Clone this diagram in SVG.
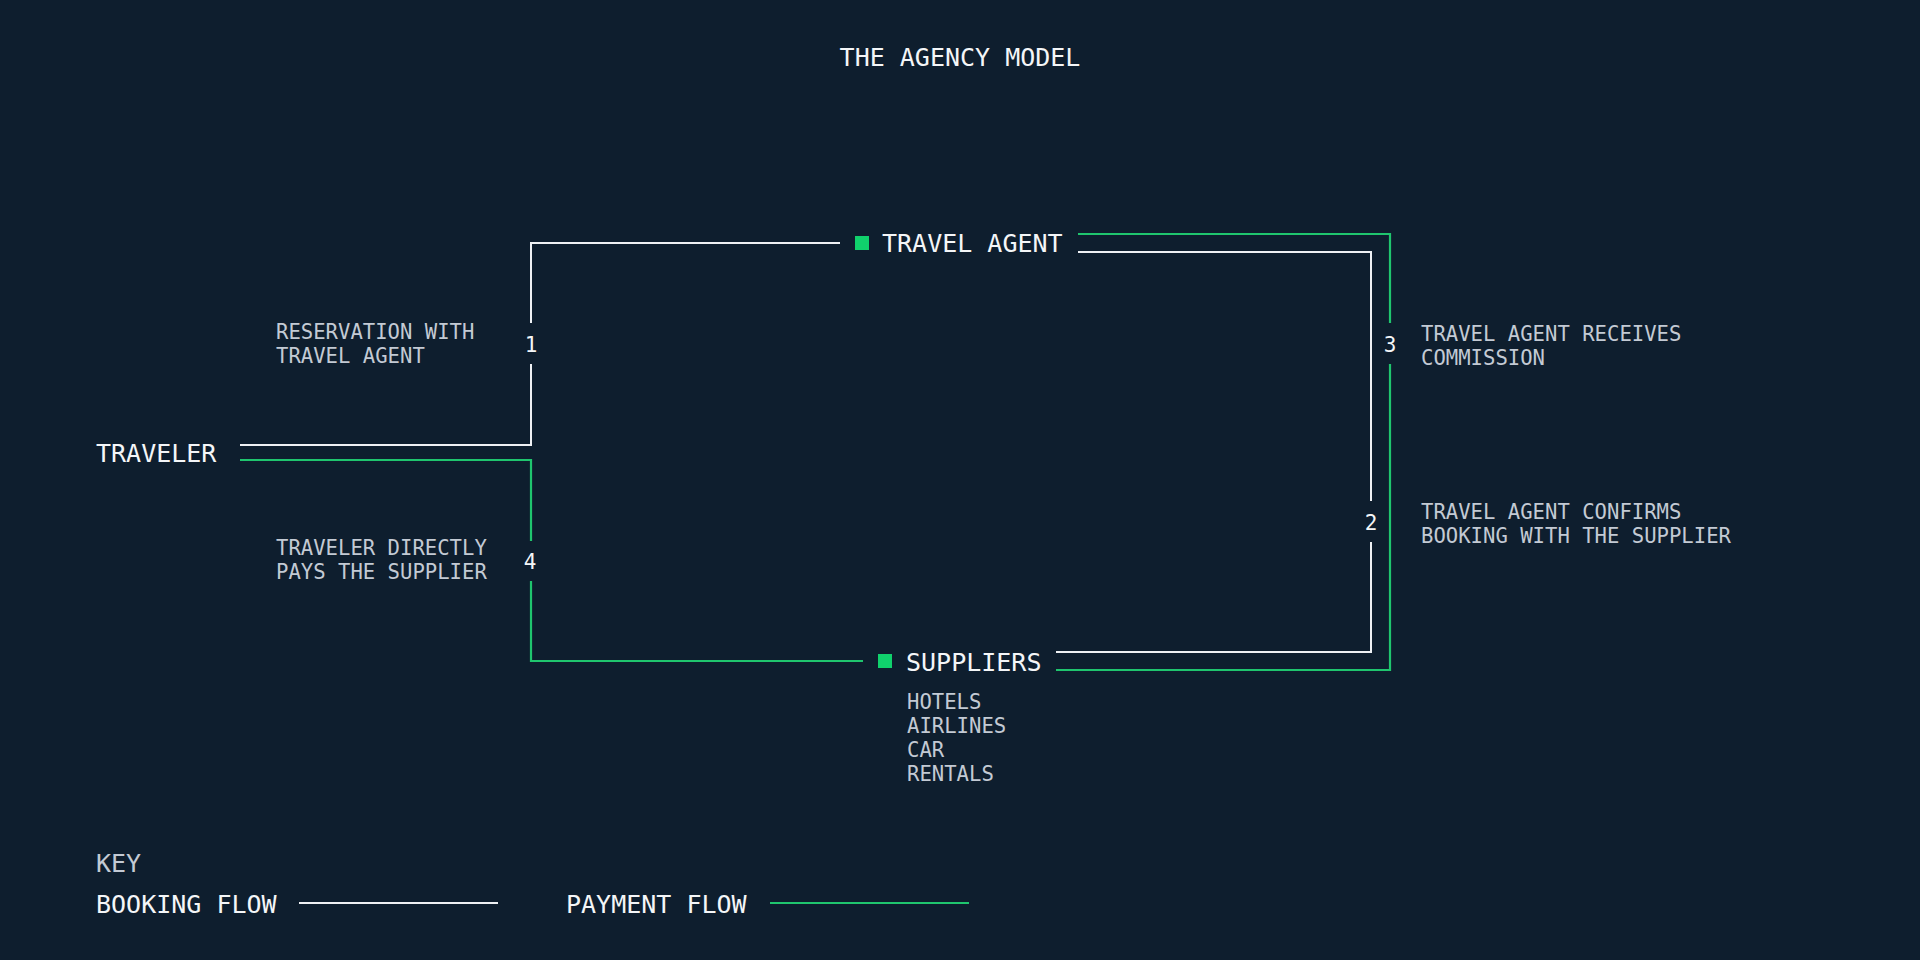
<svg xmlns="http://www.w3.org/2000/svg" width="1920" height="960" viewBox="0 0 1920 960">
<style>
  text { font-family: "DejaVu Sans Mono", "Liberation Mono", monospace; }
  .title { font-size: 25px; fill: #f4f6f8; }
  .node { font-size: 25px; fill: #f4f6f8; }
  .label { font-size: 20.6px; fill: #c3cad4; }
  .num { font-size: 21px; fill: #f4f6f8; text-anchor: middle; }
  .key { font-size: 25px; fill: #c3cad4; }
  .booking { fill: none; stroke: #eef1f4; stroke-width: 2; }
  .payment { fill: none; stroke: #1fc56e; stroke-width: 2.2; }
  .sq { fill: #10d16c; }
</style>
<rect x="0" y="0" width="1920" height="960" fill="#0e1e2e"/>

<text class="title" x="960" y="66" text-anchor="middle">THE AGENCY MODEL</text>

<g id="connectors">
  <!-- 1: traveler -> travel agent (booking) -->
  <polyline class="booking" points="240,445 531,445 531,364"/>
  <polyline class="booking" points="531,323 531,243 840,243"/>
  <!-- 2: travel agent -> suppliers (booking) -->
  <polyline class="booking" points="1078,252 1371,252 1371,501"/>
  <polyline class="booking" points="1371,542 1371,652 1056,652"/>
  <!-- 3: commission (payment) -->
  <polyline class="payment" points="1078,234 1390,234 1390,323"/>
  <polyline class="payment" points="1390,364 1390,670 1056,670"/>
  <!-- 4: traveler pays supplier (payment) -->
  <polyline class="payment" points="240,460 531,460 531,541"/>
  <polyline class="payment" points="531,581 531,661 863,661"/>
  <text class="num" x="531" y="352">1</text>
  <text class="num" x="1371" y="530">2</text>
  <text class="num" x="1390" y="352">3</text>
  <text class="num" x="530" y="569">4</text>
</g>

<g id="label-1">
  <text class="label" x="276" y="339">RESERVATION WITH</text>
  <text class="label" x="276" y="363">TRAVEL AGENT</text>
</g>
<g id="label-4">
  <text class="label" x="276" y="555">TRAVELER DIRECTLY</text>
  <text class="label" x="276" y="579">PAYS THE SUPPLIER</text>
</g>
<g id="label-3">
  <text class="label" x="1421" y="341">TRAVEL AGENT RECEIVES</text>
  <text class="label" x="1421" y="365">COMMISSION</text>
</g>
<g id="label-2">
  <text class="label" x="1421" y="519">TRAVEL AGENT CONFIRMS</text>
  <text class="label" x="1421" y="543">BOOKING WITH THE SUPPLIER</text>
</g>

<g id="node-traveler">
  <text class="node" x="96" y="462">TRAVELER</text>
</g>
<g id="node-travel-agent">
  <rect class="sq" x="855" y="236" width="14" height="14"/>
  <text class="node" x="882" y="252">TRAVEL AGENT</text>
</g>
<g id="node-suppliers">
  <rect class="sq" x="878" y="654" width="14" height="14"/>
  <text class="node" x="906" y="671">SUPPLIERS</text>
  <text class="label" x="907" y="709">HOTELS</text>
  <text class="label" x="907" y="733">AIRLINES</text>
  <text class="label" x="907" y="757">CAR</text>
  <text class="label" x="907" y="781">RENTALS</text>
</g>

<g id="key">
  <text class="key" x="96" y="872">KEY</text>
  <text class="node" x="96" y="913">BOOKING FLOW</text>
  <line class="booking" x1="299" y1="903" x2="498" y2="903"/>
  <text class="node" x="566" y="913">PAYMENT FLOW</text>
  <line class="payment" x1="770" y1="903" x2="969" y2="903"/>
</g>
</svg>
